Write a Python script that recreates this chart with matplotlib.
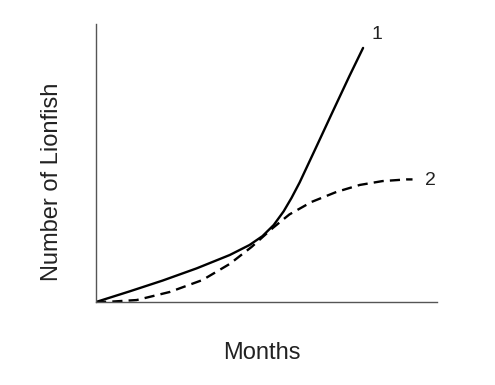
import matplotlib.pyplot as plt

# curve values (arbitrary units, axes run 0..10)
months_1 = [0.0, 0.98, 1.95, 2.95, 3.92, 4.50, 4.88, 5.21, 5.50, 5.73,
            5.97, 6.47, 6.94, 7.43, 7.83]
fish_1 = [0.0, 0.38, 0.77, 1.21, 1.69, 2.05, 2.37, 2.77, 3.26, 3.74,
          4.30, 5.61, 6.85, 8.13, 9.14]

months_2 = [0.0, 0.40, 1.19, 2.16, 3.12, 3.92, 4.56, 5.18, 5.67, 6.32,
            7.05, 7.73, 8.40, 9.11, 9.28]
fish_2 = [0.0, 0.01, 0.07, 0.36, 0.79, 1.37, 1.98, 2.66, 3.15, 3.60,
          3.96, 4.21, 4.35, 4.41, 4.41]

plt.rcParams["font.family"] = ["Liberation Sans", "DejaVu Sans"]

fig = plt.figure(figsize=(4.95, 3.85), dpi=100)
ax = fig.add_axes([0.194, 0.2156, 0.689, 0.722])

ax.plot(months_1, fish_1, color="black", linewidth=1.7,
        solid_capstyle="round", solid_joinstyle="round")
ax.plot(months_2, fish_2, color="black", linewidth=1.7,
        linestyle=(0, (4.3, 2.6)), dash_joinstyle="round")

ax.text(8.24, 9.46, "1", fontsize=14, ha="center", va="baseline", color="#222222")
ax.text(9.81, 4.21, "2", fontsize=14, ha="center", va="baseline", color="#222222")

ax.set_xlim(0, 10)
ax.set_ylim(0, 10)
ax.set_xticks([])
ax.set_yticks([])
for side in ("top", "right"):
    ax.spines[side].set_visible(False)
for side in ("left", "bottom"):
    ax.spines[side].set_color("#555555")
    ax.spines[side].set_linewidth(1.0)

ax.set_xlabel("Months", fontsize=17, color="#222222")
ax.set_ylabel("Number of Lionfish", fontsize=17, color="#222222")
ax.xaxis.set_label_coords(0.487, -0.144)
ax.yaxis.set_label_coords(-0.097, 0.432)

fig.savefig("out.png", dpi=100)
